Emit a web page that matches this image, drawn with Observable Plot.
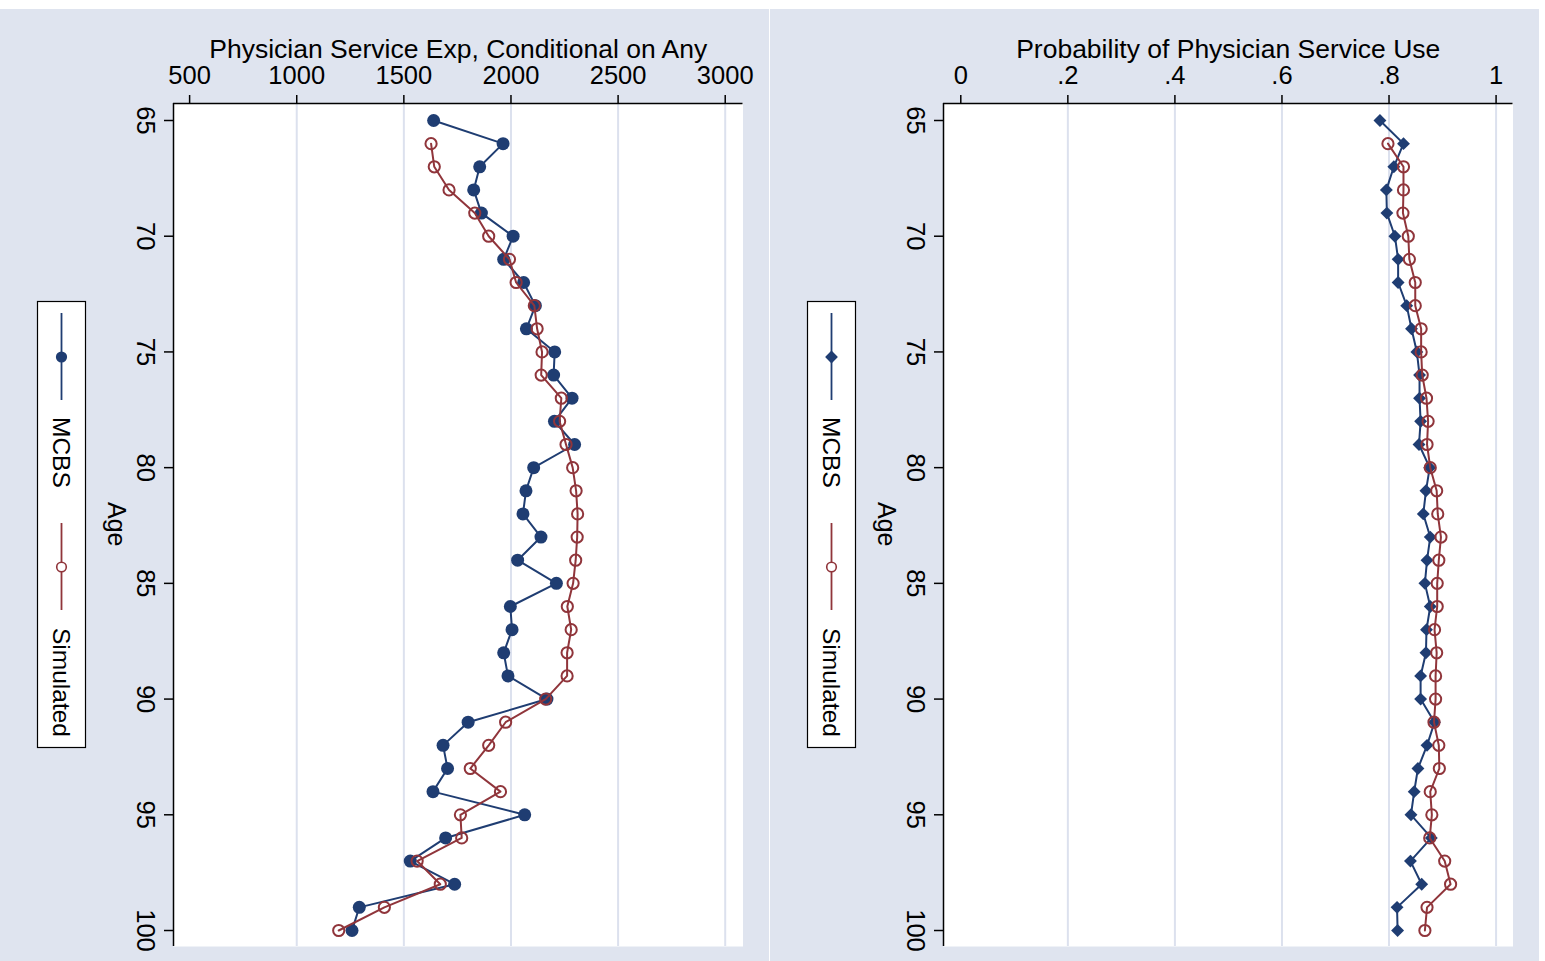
<!DOCTYPE html>
<html>
<head>
<meta charset="utf-8">
<script src="https://cdn.jsdelivr.net/npm/d3@7"></script>
<script src="https://cdn.jsdelivr.net/npm/@observablehq/plot@0.6"></script>
<style>
html, body { margin: 0; padding: 0; background: #fff; }
#root { position: relative; width: 1545px; height: 961px; background: #fff; overflow: hidden; }
.panel { position: absolute; top: 9px; width: 769px; height: 952px; background: #dfe4ef; }
.panel > svg.plotsvg { position: absolute; left: 0; top: 0; }
.legend { position: absolute; left: -162px; top: 491px; transform: rotate(90deg); }
</style>
</head>
<body>
<div id="root"></div>
<script>
// ---------- data ----------
const ages = [65,66,67,68,69,70,71,72,73,74,75,76,77,78,79,80,81,82,83,84,85,86,87,88,89,90,91,92,93,94,95,96,97,98,99,100];
const simAges = [66,67,68,69,70,71,72,73,74,75,76,77,78,79,80,81,82,83,84,85,86,87,88,89,90,91,92,93,94,95,96,97,98,99,100];

// Left panel: Physician service expenditure, conditional on any
const expMCBS = [1639,1963,1854,1826,1862,2010,1966,2059,2114,2072,2204,2199,2285,2203,2297,2106,2070,2056,2140,2031,2212,1997,2005,1966,1986,2168,1800,1683,1704,1636,2064,1695,1530,1737,1292,1258];
const expSim = [1627,1642,1711,1831,1896,1993,2024,2109,2122,2145,2141,2235,2227,2257,2288,2304,2311,2309,2302,2290,2263,2281,2262,2262,2162,1975,1896,1810,1951,1764,1770,1562,1670,1409,1196];

// Right panel: probability of physician service use
const probMCBS = [0.783,0.827,0.809,0.795,0.796,0.811,0.817,0.817,0.833,0.842,0.852,0.857,0.857,0.859,0.856,0.876,0.869,0.864,0.877,0.871,0.867,0.877,0.870,0.869,0.859,0.859,0.885,0.871,0.854,0.847,0.841,0.879,0.840,0.861,0.815,0.816];
const probSim = [0.798,0.827,0.827,0.826,0.836,0.838,0.849,0.849,0.860,0.860,0.862,0.870,0.873,0.871,0.877,0.889,0.891,0.897,0.893,0.890,0.890,0.885,0.889,0.887,0.887,0.884,0.893,0.894,0.877,0.880,0.876,0.904,0.915,0.871,0.867];

// Ticks and labels
const ageTicks = [65,70,75,80,85,90,95,100];
const expTicks = [500,1000,1500,2000,2500,3000];
const expTickLabels = ["500","1000","1500","2000","2500","3000"];
const expGrid = [1000,1500,2000,2500,3000];
const probTicks = [0,0.2,0.4,0.6,0.8,1];
const probTickLabels = ["0",".2",".4",".6",".8","1"];
const probGrid = [0.2,0.4,0.6,0.8,1];

const seriesNames = ["MCBS","Simulated"];
const titles = ["Physician Service Exp, Conditional on Any","Probability of Physician Service Use"];
const ageLabel = "Age";

// ---------- style ----------
const FONT = '"Liberation Sans", Arial, Helvetica, sans-serif';
const BLUE = "#1f3d72";
const RED = "#90353b";
const GRID = "#dce1ee";
const yDomain = [100.691, 64.2654];

function makePanel({v1, v2, xDomain, xTicks, xTickLabels, xGrid, title, symbol1, r1}) {
  const d1 = ages.map((a, i) => ({age: a, v: v1[i]}));
  const d2 = simAges.map((a, i) => ({age: a, v: v2[i]}));
  const fmt = new Map(xTicks.map((t, i) => [t, xTickLabels[i]]));
  const svg = Plot.plot({
    width: 769,
    height: 952,
    marginLeft: 173,
    marginRight: 26.5,
    marginTop: 94,
    marginBottom: 15,
    style: {background: "transparent", fontFamily: FONT, fontSize: "25.5px", color: "#000", overflow: "visible"},
    x: {domain: xDomain, axis: null},
    y: {domain: yDomain, axis: null},
    marks: [
      Plot.frame({fill: "#fff", stroke: "none"}),
      Plot.gridX(xGrid, {stroke: GRID, strokeOpacity: 1, strokeWidth: 2}),
      Plot.ruleY([yDomain[1]], {stroke: "#000", strokeWidth: 1.5}),
      Plot.ruleX([xDomain[0]], {stroke: "#000", strokeWidth: 1.5}),
      Plot.axisX({anchor: "top", ticks: xTicks, tickFormat: d => fmt.get(d), tickSize: 9, tickPadding: 11, label: null, strokeWidth: 1.5}),
      Plot.axisY({anchor: "left", ticks: ageTicks, tickFormat: d => String(d), tickSize: 9, tickPadding: 9.5, tickRotate: 90, label: null, strokeWidth: 1.5}),
      Plot.text([title], {frameAnchor: "top", dy: -46, lineAnchor: "bottom", fontSize: 26.5}),
      Plot.text([ageLabel], {frameAnchor: "left", dx: -58, dy: -23, rotate: 90, fontSize: 25}),
      Plot.line(d1, {x: "v", y: "age", stroke: BLUE, strokeWidth: 2}),
      Plot.dot(d1, {x: "v", y: "age", symbol: symbol1, r: r1, fill: BLUE, stroke: "none"}),
      Plot.line(d2, {x: "v", y: "age", stroke: RED, strokeWidth: 2}),
      Plot.dot(d2, {x: "v", y: "age", symbol: "circle", r: 5.6, fill: "none", stroke: RED, strokeWidth: 2})
    ]
  });
  svg.classList.add("plotsvg");
  return svg;
}

function makeLegend(symbol1) {
  const svg = d3.create("svg").attr("class", "legend").attr("width", 447).attr("height", 49)
    .style("overflow", "visible");
  svg.append("rect").attr("x", 0.5).attr("y", 0.5).attr("width", 446).attr("height", 48)
    .attr("fill", "#fff").attr("stroke", "#000").attr("stroke-width", 1.2);
  const keys = [
    {x0: 12, x1: 99, xm: 56, color: BLUE, tx: 116, name: seriesNames[0], kind: symbol1},
    {x0: 222, x1: 309, xm: 266, color: RED, tx: 327, name: seriesNames[1], kind: "hollow"}
  ];
  for (const k of keys) {
    svg.append("line").attr("x1", k.x0).attr("x2", k.x1).attr("y1", 24.5).attr("y2", 24.5)
      .attr("stroke", k.color).attr("stroke-width", 1.8);
    if (k.kind === "circle") {
      svg.append("circle").attr("cx", k.xm).attr("cy", 24.5).attr("r", 5.6).attr("fill", k.color);
    } else if (k.kind === "diamond2") {
      const s = 6.4;
      svg.append("path").attr("d", `M${k.xm},${24.5 - s}L${k.xm + s},24.5L${k.xm},${24.5 + s}L${k.xm - s},24.5Z`).attr("fill", k.color);
    } else {
      svg.append("circle").attr("cx", k.xm).attr("cy", 24.5).attr("r", 4.8).attr("fill", "#fff")
        .attr("stroke", k.color).attr("stroke-width", 1.6);
    }
    svg.append("text").attr("x", k.tx).attr("y", 33).text(k.name)
      .attr("font-family", FONT).attr("font-size", 24.5).attr("fill", "#000");
  }
  return svg.node();
}

const root = document.getElementById("root");
const panels = [
  {left: 0, v1: expMCBS, v2: expSim, xDomain: [424.8, 3083], xTicks: expTicks, xTickLabels: expTickLabels, xGrid: expGrid, title: titles[0], symbol1: "circle", r1: 6.5},
  {left: 770, v1: probMCBS, v2: probSim, xDomain: [-0.0323, 1.0316], xTicks: probTicks, xTickLabels: probTickLabels, xGrid: probGrid, title: titles[1], symbol1: "diamond2", r1: 5.8}
];
for (const p of panels) {
  const div = document.createElement("div");
  div.className = "panel";
  div.style.left = p.left + "px";
  div.appendChild(makePanel(p));
  div.appendChild(makeLegend(p.symbol1));
  root.appendChild(div);
}
</script>
</body>
</html>
